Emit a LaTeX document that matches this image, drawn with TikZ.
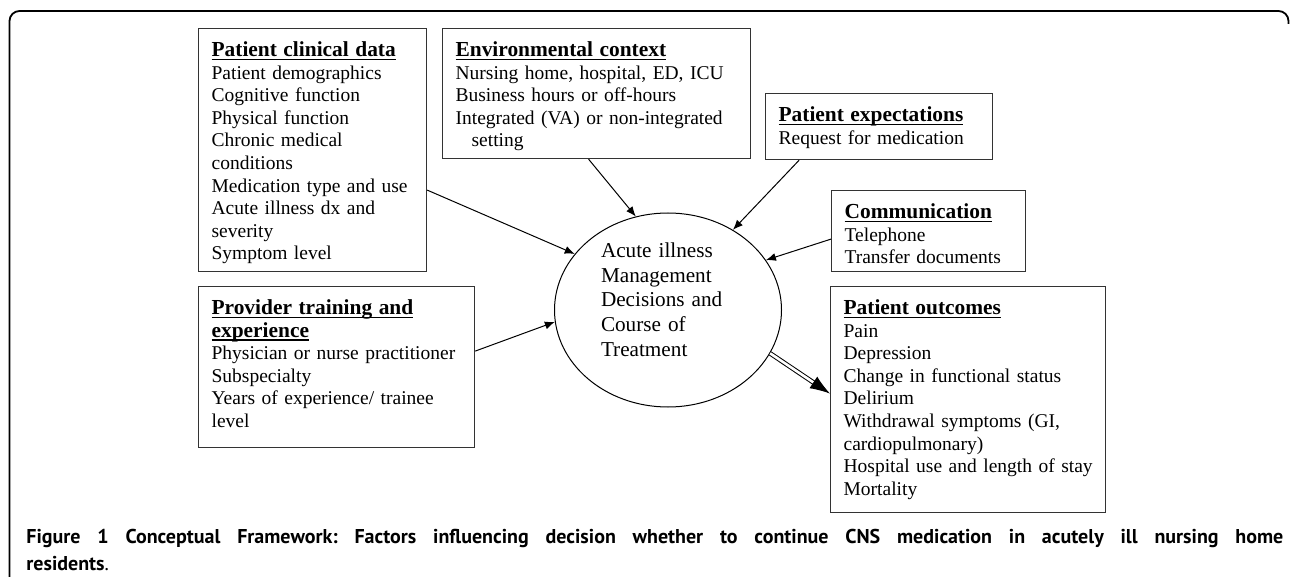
\documentclass[tikz,border=0pt]{standalone}
\usepackage{fontspec}
\setmainfont{Liberation Serif}
\newfontfamily\capfont{PT Sans}
\usepackage{tikz}
\usetikzlibrary{shapes.geometric, arrows.meta}

% underlined bold heading of a factor box
\newcommand{\boxtitle}[1]{\leavevmode\setbox0\hbox{\fontsize{10.7}{11.3}\selectfont\bfseries #1}\rlap{\rule[-1.8pt]{\wd0}{0.75pt}}\box0}

\begin{document}
\begin{tikzpicture}[
    x=0.5pt, y=-0.5pt,
    factor/.style={rectangle, draw=black!80, line width=0.6pt, anchor=north west, align=left, inner xsep=6.5pt, inner ysep=0pt, text height=14pt, font={\fontsize{9.75}{11.3}\selectfont\hyphenpenalty=10000}},
    hub/.style={ellipse, draw, line width=0.5pt, minimum width=113.5pt, minimum height=97pt, inner sep=0pt, align=left, text width=67pt, text depth=60pt, font={\fontsize{10.6}{12.4}\selectfont}},
    arrow/.style={->, >={Latex[length=5pt, width=4pt]}, line width=0.5pt},
    outarrow/.style={-{Latex[length=10pt, width=7pt]}, double, double distance=1.3pt, line width=0.5pt}
]
\useasboundingbox (0,0) rectangle (1290,577);

% Frame
\draw[line width=0.9pt, rounded corners=5pt] (9.5,577) -- (9.5,11) -- (1288.5,11) -- (1288.5,24);

% Factors
\node[factor, text width=101pt, text depth=107.5pt] (clin) at (198,28) {\boxtitle{Patient clinical data}\\ Patient demographics\\ Cognitive function\\ Physical function\\ Chronic medical\\ conditions\\ Medication type and use\\ Acute illness dx and\\ severity\\ Symptom level};

\node[factor, text width=141pt, text depth=51pt] (env) at (442,28) {\boxtitle{Environmental context}\\ Nursing home, hospital, ED, ICU\\ Business hours or off-hours\\ Integrated (VA) or non-integrated\\ \hspace*{8pt}setting};

\node[factor, text width=100.5pt, text depth=19pt] (expect) at (765,93) {\boxtitle{Patient expectations}\\ Request for medication};

\node[factor, text width=84pt, text depth=26.5pt] (comm) at (831,190) {\boxtitle{Communication}\\ Telephone\\ Transfer documents};

\node[factor, text width=125pt, text depth=66.5pt] (prov) at (198,286) {\boxtitle{Provider training and}\\ \boxtitle{experience}\\ Physician or nurse practitioner\\ Subspecialty\\ Years of experience/ trainee\\ level};

% Decision
\node[hub] (decide) at (668,310) {Acute illness\\ Management\\ Decisions and\\ Course of\\ Treatment};

% Outcomes
\node[factor, text width=124.5pt, text depth=99pt] (outc) at (830,286) {\boxtitle{Patient outcomes}\\ Pain\\ Depression\\ Change in functional status\\ Delirium\\ Withdrawal symptoms (GI,\\ cardiopulmonary)\\ \mbox{Hospital use and length of stay}\\ Mortality};

% Arrows
\draw[arrow] ([yshift=-20pt]clin.east) -- (decide.149);
\draw[arrow] ([xshift=-4pt]env.south) -- (decide.109);
\draw[arrow] ([xshift=-40pt]expect.south) -- (decide.51);
\draw[arrow] ([yshift=-4pt]comm.west) -- (decide.27);
\draw[arrow] ([yshift=8pt]prov.east) -- (decide.186);
\draw[outarrow] (decide.-23) -- ([yshift=3pt]outc.west);

% Caption
\node[anchor=base west, text width=628.5pt, align=justify, inner sep=0pt, font={\capfont\bfseries\fontsize{10}{13.5}\selectfont\frenchspacing}] (cap) at (26,543) {Figure 1 Conceptual Framework: Factors influencing decision whether to continue CNS medication in acutely ill nursing home\linebreak residents\textmd{.}};

\end{tikzpicture}
\end{document}
